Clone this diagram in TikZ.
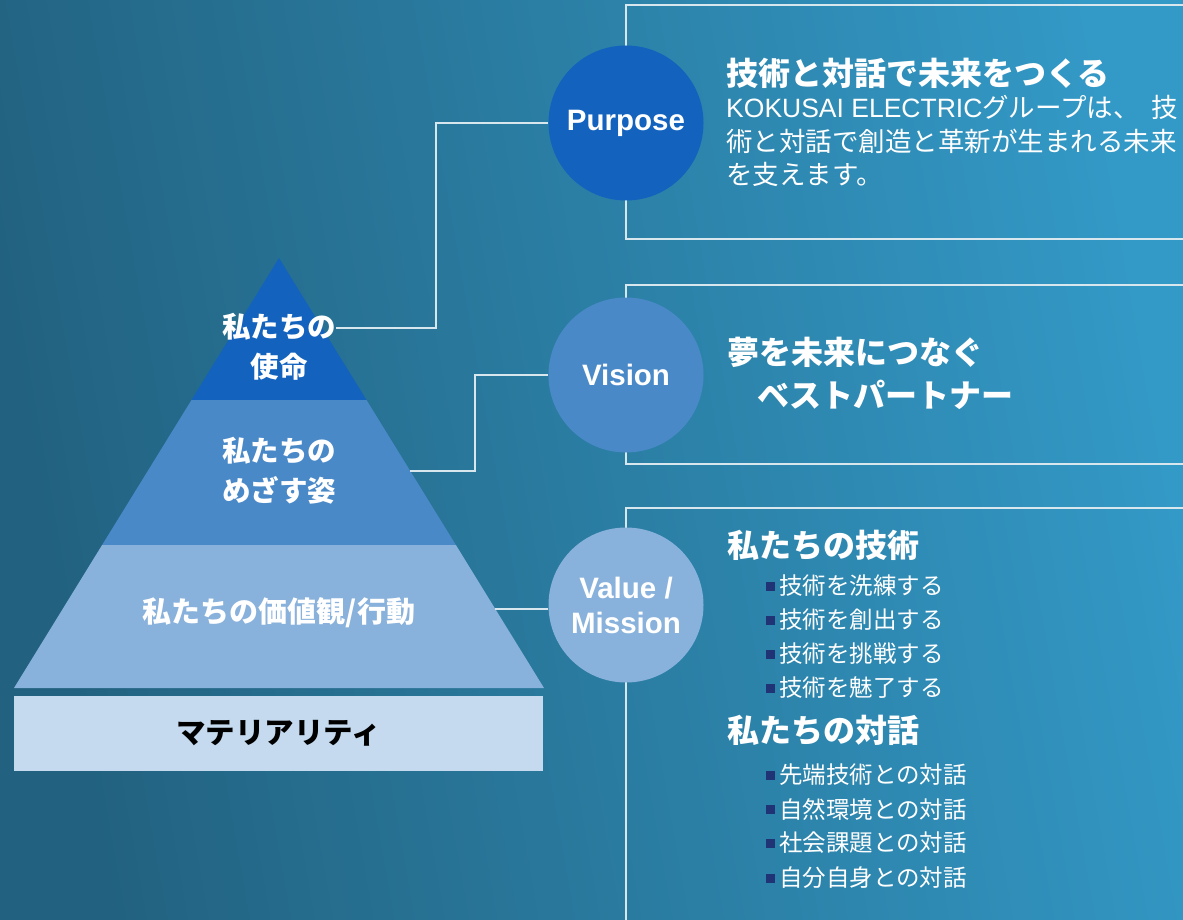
\documentclass[tikz,border=0pt]{standalone}
\usepackage{graphicx}
\usepackage{fontspec}
\newfontfamily\jp{Noto Sans CJK JP}
\newfontfamily\ar{Liberation Sans}
\usetikzlibrary{calc}
\definecolor{bgL}{HTML}{22617F}
\definecolor{bgR}{HTML}{3399C6}
\definecolor{layA}{HTML}{1262BE}
\definecolor{layB}{HTML}{4A89C8}
\definecolor{layC}{HTML}{88B1DB}
\definecolor{matc}{HTML}{C5DAEE}
\definecolor{linec}{HTML}{D8E6EE}
\definecolor{bulc}{HTML}{1F3375}
\begin{document}
\begin{tikzpicture}[x=1pt,y=-1pt,
 conn/.style={draw=linec, line width=1.2pt},
 boxline/.style={draw=linec, line width=1.5pt},
 circ/.style={circle, minimum size=155pt, inner sep=0pt, text=white, font=\ar\bfseries\fontsize{29.5}{35}\selectfont, align=center},
 layer/.style={text=white, font=\jp\bfseries\fontsize{28.5}{40}\selectfont, align=center, inner sep=0pt},
 head/.style={anchor=west, text=white, font=\jp\bfseries\fontsize{32}{38}\selectfont, inner sep=0pt},
 body/.style={anchor=west, text=white, font=\jp\fontsize{26.5}{33.5}\selectfont, inner sep=0pt},
 item/.style={anchor=west, text=white, font=\jp\fontsize{23.5}{28}\selectfont, inner sep=0pt}
]
\newcommand\bul{\textcolor{bulc}{\rule[4pt]{9pt}{9pt}}\hspace{4pt}}
\useasboundingbox (0,0) rectangle (1183,920);
\begin{scope}
\clip (0,0) rectangle (1183,920);
\shade[left color=bgL, right color=bgR, shading angle=100] (0,0) rectangle (1183,920);

% pyramid
\fill[layA] (279,258) -- (366.5,400) -- (191.5,400) -- cycle;
\fill[layB] (191.5,400) -- (366.5,400) -- (455.9,545) -- (102.1,545) -- cycle;
\fill[layC] (102.1,545) -- (455.9,545) -- (544,688) -- (14,688) -- cycle;
\node[fill=matc, minimum width=529pt, minimum height=75pt, anchor=north west, inner sep=0pt] (matbox) at (14,696) {};
\node[font=\jp\bfseries\fontsize{29.5}{34}\selectfont, text=black] (matlbl) at (matbox.center) {マテリアリティ};

\node[layer] (lay1) at (279,347) {私たちの\\使命};
\node[layer] (lay2) at (279,471) {私たちの\\めざす姿};
\node[layer, font=\jp\bfseries\fontsize{29}{40}\selectfont] (lay3) at (279,613) {私たちの価値観/行動};

% boxes
\draw[boxline] (1195,5) -- (626,5) -- (626,239) -- (1195,239);
\draw[boxline] (1195,285) -- (626,285) -- (626,464) -- (1195,464);
\draw[boxline] (1195,508) -- (626,508) -- (626,930);

% circles
\node[circ, fill=layA] (purpose) at (626,123) {\raisebox{-3pt}{Purpose}};
\node[circ, fill=layB] (vision) at (626,375) {Vision};
\node[circ, fill=layC] (value) at (626,605) {Value /\\Mission};

% connectors
\coordinate (c1) at (336,328);
\coordinate (c2) at (410,471);
\coordinate (c3) at (495,609);
\draw[conn] (c1) -- ++(100,0) |- (purpose.west);
\draw[conn] (c2) -- ++(65,0) |- (vision.west);
\draw[conn] (c3) -- (c3 -| value.west);

% purpose text
\node[head] (ptitle) at (726,73) {技術と対話で未来をつくる};
\node[body] (pb1) at (726,107) {\makebox[452pt][l]{{\ar KOKUSAI ELECTRIC}グループは、\hfill 技}};
\node[body] (pb2) at (726,141) {術と対話で創造と革新が生まれる未来};
\node[body] (pb3) at (726,174) {を支えます。};

% vision text
\node[head] (vt1) at (727,352) {夢を未来につなぐ};
\node[head] (vt2) at (757,395) {ベストパートナー};

% value text
\node[head] (h1) at (727,545) {私たちの技術};
\node[item] (i1) at (766,586) {\bul 技術を洗練する};
\node[item] (i2) at (766,620) {\bul 技術を創出する};
\node[item] (i3) at (766,654) {\bul 技術を挑戦する};
\node[item] (i4) at (766,688) {\bul 技術を魅了する};
\node[head] (h2) at (727,730) {私たちの対話};
\node[item] (i5) at (766,775) {\bul 先端技術との対話};
\node[item] (i6) at (766,809) {\bul 自然環境との対話};
\node[item] (i7) at (766,843) {\bul 社会課題との対話};
\node[item] (i8) at (766,878) {\bul 自分自身との対話};
\end{scope}
\end{tikzpicture}
\end{document}
